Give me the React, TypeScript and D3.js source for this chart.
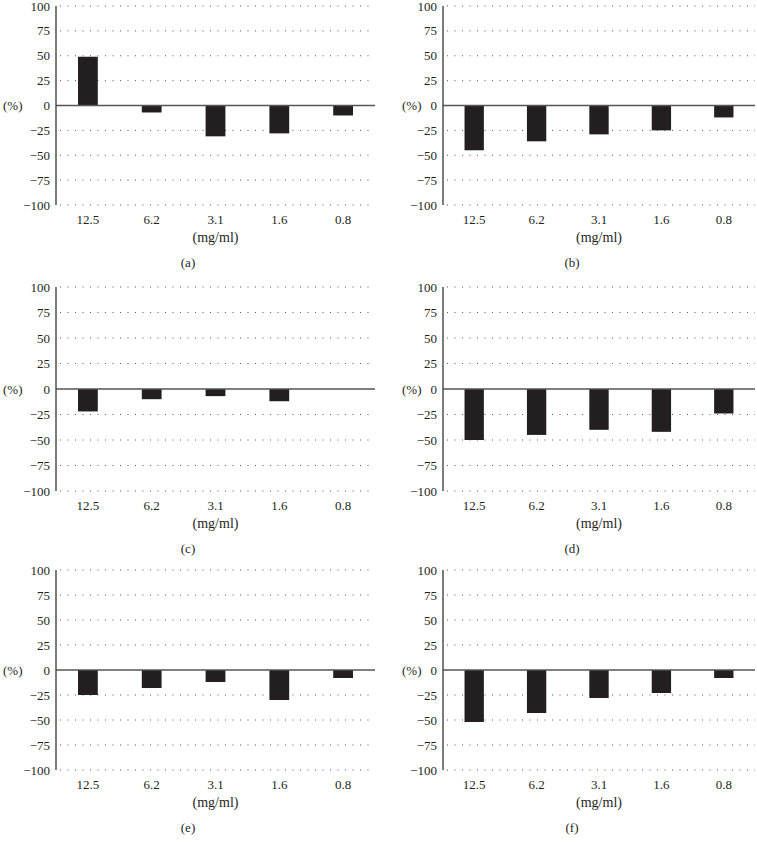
import React from 'react';
import * as d3 from 'd3';

// concentrations on the x axis
const categories = ['12.5', '6.2', '3.1', '1.6', '0.8'];

// % change per panel
const seriesA = [49, -7, -31, -28, -10];
const seriesB = [-45, -36, -29, -25, -12];
const seriesC = [-22, -10, -7, -12, 0];
const seriesD = [-50, -45, -40, -42, -24];
const seriesE = [-25, -18, -12, -30, -8];
const seriesF = [-52, -43, -28, -23, -8];

const panelLabels = ['(a)', '(b)', '(c)', '(d)', '(e)', '(f)'];
const yTicks = [100, 75, 50, 25, 0, -25, -50, -75, -100];

const allSeries = [seriesA, seriesB, seriesC, seriesD, seriesE, seriesF];

const W = 757;
const H = 842;
const FONT = 'Liberation Serif';
const INK = '#231f20';

const cols = [
    { axisX: 56, right: 375, pctX: 3, labelX: 188 },
    { axisX: 443, right: 755, pctX: 402, labelX: 572 }
];
const rows = [
    { top: 6, bottom: 205 },
    { top: 287, bottom: 491 },
    { top: 570, bottom: 770 }
];

const fmt = d3.format('d');

const Panel = ({ values, label, col, row }) => {
    const x = d3.scaleBand()
        .domain(categories)
        .range([col.axisX, col.right])
        .paddingInner(0.69)
        .paddingOuter(0.345);

    const y = d3.scaleLinear()
        .domain([-100, 100])
        .range([row.bottom, row.top]);

    const midX = (col.axisX + col.right) / 2;

    return (
        <g fontFamily={FONT} fill={INK}>
            {/* dotted grid */}
            {yTicks.filter(t => t !== 0).map(t => (
                <line key={'g' + t}
                    x1={col.axisX + 4} x2={col.right}
                    y1={y(t)} y2={y(t)}
                    stroke="#555" strokeWidth={1}
                    strokeDasharray="1 6.5" />
            ))}

            {/* bars */}
            {values.map((v, i) => (
                <rect key={'b' + i}
                    x={x(categories[i])}
                    y={y(Math.max(0, v))}
                    width={x.bandwidth()}
                    height={Math.abs(y(v) - y(0))}
                    fill={INK} />
            ))}

            {/* zero line and y axis */}
            <line x1={col.axisX} x2={col.right} y1={y(0)} y2={y(0)} stroke="#555" strokeWidth={1.4} />
            <line x1={col.axisX} x2={col.axisX} y1={y(100)} y2={y(-100)} stroke="#444" strokeWidth={1.4} />

            {/* y tick labels */}
            {yTicks.map(t => (
                <text key={'t' + t}
                    x={col.axisX - 6} y={y(t)}
                    textAnchor="end" dominantBaseline="central"
                    fontFamily={FONT} fontSize={13}>
                    {fmt(t)}
                </text>
            ))}
            <text x={col.pctX} y={y(0)} dominantBaseline="central" fontFamily={FONT} fontSize={13}>(%)</text>

            {/* x tick labels */}
            {categories.map(c => (
                <text key={'x' + c}
                    x={x(c) + x.bandwidth() / 2} y={row.bottom + 14}
                    textAnchor="middle" dominantBaseline="central"
                    fontFamily={FONT} fontSize={13}>
                    {c}
                </text>
            ))}
            <text x={midX} y={row.bottom + 32} textAnchor="middle" dominantBaseline="central" fontFamily={FONT} fontSize={14}>(mg/ml)</text>
            <text x={col.labelX} y={row.bottom + 57} textAnchor="middle" dominantBaseline="central" fontFamily={FONT} fontSize={13}>{label}</text>
        </g>
    );
};

const App = () => {
    return (
        <div style={{ position: 'absolute', left: 0, top: 0 }}>
            <svg width={W} height={H} style={{ display: 'block', background: '#fff' }}>
                {allSeries.map((s, i) => (
                    <Panel key={i}
                        values={s}
                        label={panelLabels[i]}
                        col={cols[i % 2]}
                        row={rows[Math.floor(i / 2)]} />
                ))}
            </svg>
        </div>
    );
};

export default App;
